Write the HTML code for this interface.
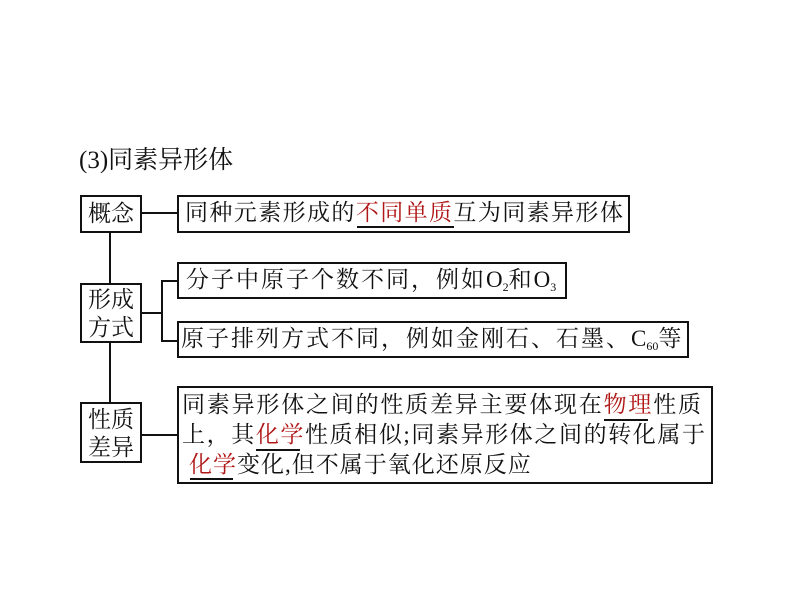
<!DOCTYPE html>
<html><head><meta charset="utf-8"><style>
body{margin:0;width:794px;height:603px;background:#fff;position:relative;overflow:hidden;font-family:"Liberation Serif","Noto Serif CJK SC",serif;color:#111}
.b{position:absolute;border:2px solid #111;box-sizing:border-box;background:#fff}
.l{position:absolute;background:#111}
.t{position:absolute;white-space:nowrap;font-size:23px;letter-spacing:2px;line-height:30px}
.r{color:#b01818}
.e{letter-spacing:0}
.lb{position:absolute;font-size:23px;line-height:28px;text-align:center;width:58px;left:0;letter-spacing:0}
sub{font-size:12px;vertical-align:-4px;letter-spacing:0}
</style></head><body>
<div class="t" style="left:79px;top:146px;font-size:25px;letter-spacing:0">(3)同素异形体</div>
<!-- lines -->
<div class="l" style="left:109px;top:232px;width:2px;height:170px"></div>
<div class="l" style="left:141px;top:212px;width:38px;height:2px"></div>
<div class="l" style="left:141px;top:312px;width:21px;height:2px"></div>
<div class="l" style="left:161px;top:280px;width:2px;height:62px"></div>
<div class="l" style="left:161px;top:280px;width:18px;height:2px"></div>
<div class="l" style="left:161px;top:340px;width:18px;height:2px"></div>
<div class="l" style="left:141px;top:434px;width:38px;height:2px"></div>
<!-- left boxes -->
<div class="b" style="left:80px;top:195px;width:62px;height:38px"><div class="lb" style="top:3px">概念</div></div>
<div class="b" style="left:80px;top:283px;width:62px;height:60px"><div class="lb" style="top:1px">形成<br>方式</div></div>
<div class="b" style="left:80px;top:402px;width:62px;height:61px"><div class="lb" style="top:2px">性质<br>差异</div></div>
<!-- right boxes -->
<div class="b" style="left:177px;top:195px;width:453px;height:38px"></div>
<div class="t" style="left:185px;top:198px;letter-spacing:1.4px">同种元素形成的<span class="r">不同单质</span>互为同素异形体</div>
<div class="l" style="left:357px;top:226px;width:97px;height:2px"></div>
<div class="b" style="left:177px;top:262px;width:390px;height:37px"></div>
<div class="t" style="left:186px;top:265px">分子中原子个数不同，例如<span class="e">O</span><sub>2</sub>和<span class="e">O</span><sub>3</sub></div>
<div class="b" style="left:177px;top:321px;width:512px;height:37px"></div>
<div class="t" style="left:181px;top:324px">原子排列方式不同，例如金刚石、石墨、<span class="e">C</span><sub>60</sub>等</div>
<div class="b" style="left:177px;top:386px;width:536px;height:98px"></div>
<div class="t" style="left:182px;top:390px;letter-spacing:1.8px">同素异形体之间的性质差异主要体现在<span class="r">物理</span>性质</div>
<div class="l" style="left:604px;top:419px;width:44px;height:2px"></div>
<div class="t" style="left:182px;top:420px;letter-spacing:1.6px">上，其<span class="r">化学</span>性质相似;同素异形体之间的转化属于</div>
<div class="l" style="left:256px;top:449px;width:44px;height:2px"></div>
<div class="t" style="left:189px;top:450px;letter-spacing:1px"><span class="r">化学</span>变化,但不属于氧化还原反应</div>
<div class="l" style="left:190px;top:478px;width:43px;height:2px"></div>
</body></html>
